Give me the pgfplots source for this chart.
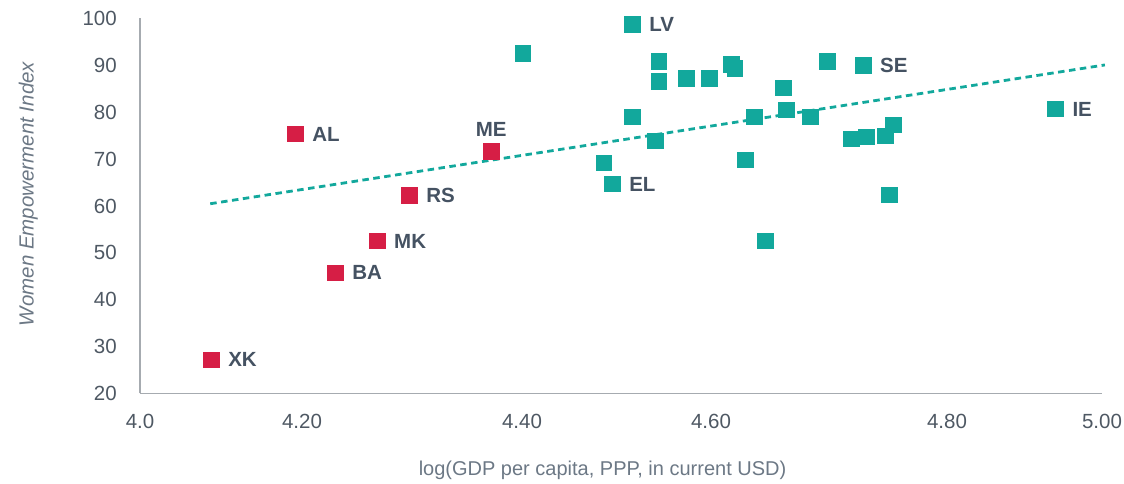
\documentclass[border=0pt]{standalone}
\usepackage{fontspec}
\setmainfont{Liberation Sans}
\usepackage{pgfplots}
\pgfplotsset{compat=1.18}
\definecolor{cred}{RGB}{214,30,69}
\definecolor{cteal}{RGB}{18,168,156}
\definecolor{ctext}{RGB}{69,82,98}
\definecolor{ctick}{RGB}{78,88,99}
\definecolor{clab}{RGB}{108,120,133}
\definecolor{caxis}{RGB}{166,171,176}
\begin{document}
\begin{tikzpicture}
\useasboundingbox (0,0) rectangle (1124pt,484pt);
\begin{axis}[
  at={(140pt,90.5pt)}, anchor=south west,
  scale only axis, width=962pt, height=375pt,
  xmin=4, xmax=5, ymin=20, ymax=100,
  clip=false,
  axis x line*=bottom, axis y line*=left,
  axis line style={draw=caxis, line width=1.2pt, -},
  major tick length=0pt,
  xtick={4.0,4.1684,4.3971,4.5936,4.8389,5.0},
  xticklabels={4.0,4.20,4.40,4.60,4.80,5.00},
  ytick={20,30,...,100},
  /pgf/number format/assume math mode=true,
  tick label style={font=\fontsize{20.5}{24}\selectfont, text=ctick, inner sep=0pt},
  xticklabel style={anchor=base, yshift=-35pt},
  yticklabel style={anchor=east, xshift=-23pt},
  xlabel={log(GDP per capita, PPP, in current USD)},
  xlabel style={at={(axis description cs:0.4808,-0.2187)}, anchor=base, font=\fontsize{20}{24}\selectfont, text=clab, inner sep=0pt},
  ylabel={Women Empowerment Index},
  ylabel style={at={(axis description cs:-0.1107,0.532)}, anchor=base, font=\fontsize{20.5}{24}\selectfont\itshape, text=clab, inner sep=0pt},
  every node near coord/.append style={font=\fontsize{20.5}{24}\selectfont\bfseries, text=ctext, inner sep=0pt},
  tealmk/.style={cteal, only marks, mark=square*, mark size=7.8pt, mark options={fill=cteal, draw=cteal, line width=0pt}},
  redmk/.style={cred, only marks, mark=square*, mark size=7.8pt, mark options={fill=cred, draw=cred, line width=0pt}},
]
% trend line
\addplot[cteal, line width=2.8pt, dash pattern=on 6.5pt off 4.5pt] coordinates {(4.073,60.48) (5.003,90.09)};
% teal unlabeled
\addplot[tealmk] table {
x y
4.3983 92.54
4.5397 90.88
4.5397 86.62
4.5678 87.26
4.5917 87.26
4.6146 90.24
4.6187 89.39
4.5118 78.95
4.5356 73.84
4.4825 69.15
4.6385 78.95
4.6686 85.13
4.6720 80.44
4.6291 69.79
4.6499 52.54
4.6967 78.95
4.7144 90.88
4.7393 74.26
4.7549 74.69
4.7747 74.90
4.7830 77.25
4.7788 62.33
};
% teal labeled
\addplot[tealmk,
  nodes near coords, point meta=explicit symbolic,
  every node near coord/.append style={anchor=west, xshift=17pt}] table[meta=label] {
x y label
4.5118 98.76 LV
4.4909 64.68 EL
4.7518 90.03 SE
4.9517 80.66 IE
};
% red labeled right
\addplot[redmk,
  nodes near coords, point meta=explicit symbolic,
  every node near coord/.append style={anchor=west, xshift=17pt}] table[meta=label] {
x y label
4.0741 27.18 XK
4.1614 75.33 AL
4.2030 45.72 BA
4.2466 52.49 MK
4.2799 62.29 RS
};
% red labeled above
\addplot[redmk,
  nodes near coords, point meta=explicit symbolic,
  every node near coord/.append style={anchor=south, yshift=15pt}] table[meta=label] {
x y label
4.3651 71.62 ME
};
\end{axis}
\end{tikzpicture}
\end{document}
